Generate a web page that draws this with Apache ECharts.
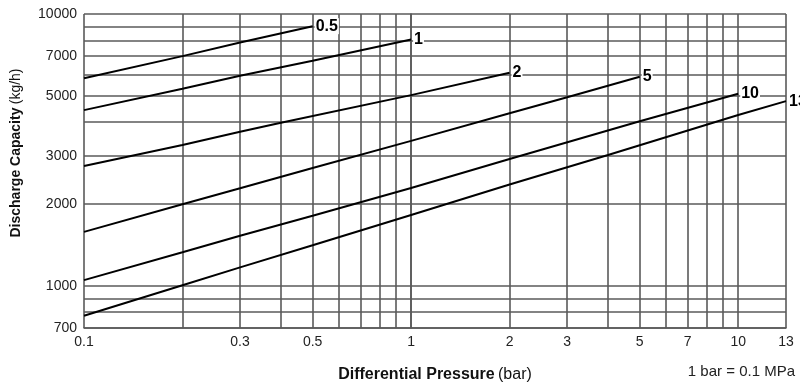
<!DOCTYPE html>
<html><head><meta charset="utf-8">
<script src="https://cdn.jsdelivr.net/npm/echarts@6/dist/echarts.min.js"></script>
<style>html,body{margin:0;padding:0;background:#fff}#c{width:800px;height:384px}</style>
</head><body><div id="c"></div>
<script>
// Tick values (bar on x, kg/h on y)
const xGridTicks = [0.1,0.2,0.3,0.4,0.5,0.6,0.7,0.8,0.9,1,2,3,4,5,6,7,8,9,10,13];
const xLabelTicks = [0.1,0.3,0.5,1,2,3,5,7,10,13];
const yGridTicks = [700,800,900,1000,2000,3000,4000,5000,6000,7000,8000,9000,10000];
const yLabelTicks = [700,1000,2000,3000,5000,7000,10000];

// Curves: label = maximum differential pressure (bar)
const curveNames = ['0.5','1','2','5','10','13'];
const p_05 = [0.1, 0.2, 0.3, 0.5];
const c_05 = [5800, 7000, 7850, 9020];
const p_1 = [0.1, 0.2, 0.3, 0.5, 1];
const c_1 = [4430, 5310, 5930, 6730, 8060];
const p_2 = [0.1, 0.2, 0.3, 0.4, 1, 2];
const c_2 = [2760, 3300, 3690, 3980, 5030, 6080];
const p_5 = [0.1, 0.2, 0.3, 0.5, 1, 2, 3, 5];
const c_5 = [1580, 1995, 2285, 2715, 3415, 4315, 4940, 5880];
const p_10 = [0.1, 0.2, 0.3, 0.5, 1, 2, 5, 10];
const c_10 = [1050, 1330, 1530, 1810, 2290, 2930, 4030, 5090];
const p_13 = [0.1, 0.2, 0.3, 0.5, 1, 2, 4, 5, 10, 13];
const c_13 = [776, 1006, 1170, 1410, 1823, 2360, 3030, 3290, 4250, 4780];

const curves = [[p_05,c_05],[p_1,c_1],[p_2,c_2],[p_5,c_5],[p_10,c_10],[p_13,c_13]];

// The original chart's pressure axis is logarithmic up to 10 bar and then
// stretched so that the last gridline (13 bar) sits at the right edge.
function xPos(p){ return p <= 10 ? Math.log10(p) : 1 + (p - 10) / 3 * Math.log10(1.4); }

const FONT = '"Liberation Sans", Arial, Helvetica, sans-serif';
const GRID = '#5a5a5a';

const chart = echarts.init(document.getElementById('c'), null, {renderer:'canvas'});
chart.setOption({
  animation: false,
  backgroundColor: '#fff',
  textStyle: {fontFamily: FONT},
  grid: {left: 84, top: 14, width: 702, height: 314, containLabel: false, outerBoundsMode: 'none'},
  xAxis: {
    type: 'value',
    min: xPos(0.1), max: xPos(13),
    name: '{b|Differential Pressure} {n|(bar)}',
    nameLocation: 'middle', nameGap: 39,
    nameTextStyle: {rich: {
      b: {fontWeight: 'bold', fontSize: 16, fontFamily: FONT, color: '#111'},
      n: {fontSize: 16, fontFamily: FONT, color: '#111'}
    }},
    axisLine: {show: true, lineStyle: {color: GRID, width: 1.6}},
    axisTick: {show: false, customValues: xGridTicks.map(xPos)},
    splitLine: {show: true, lineStyle: {color: GRID, width: 1.6}},
    axisLabel: {
      customValues: xLabelTicks.map(xPos),
      showMinLabel: true, showMaxLabel: true, hideOverlap: false,
      margin: 7, fontSize: 14, color: '#222', fontFamily: FONT,
      formatter: function (v) {
        for (const t of xLabelTicks) if (Math.abs(xPos(t) - v) < 1e-6) return String(t);
        return '';
      }
    }
  },
  yAxis: {
    type: 'log', logBase: 10, min: 700, max: 10000,
    axisLine: {show: true, lineStyle: {color: GRID, width: 1.6}},
    axisTick: {show: false, customValues: yGridTicks},
    splitLine: {show: true, lineStyle: {color: GRID, width: 1.6}},
    axisLabel: {
      customValues: yLabelTicks,
      showMinLabel: true, showMaxLabel: true, hideOverlap: false,
      margin: 7, fontSize: 14, color: '#222', fontFamily: FONT,
      formatter: function (v) { return String(Math.round(v)); }
    }
  },
  graphic: [
    {type: 'text', x: 16, y: 153, rotation: Math.PI / 2,
     style: {text: '{b|Discharge Capacity} {n|(kg/h)}', align: 'center', verticalAlign: 'middle',
       rich: {b: {fontWeight: 'bold', fontSize: 14, fontFamily: FONT, fill: '#111'},
              n: {fontSize: 14, fontFamily: FONT, fill: '#111'}}}},
    {type: 'text', right: 5, top: 364,
     style: {text: '1 bar = 0.1 MPa', fontSize: 15, fontFamily: FONT, fill: '#222'}}
  ],
  series: curves.map(function (c, i) {
    return {
      type: 'line', name: curveNames[i],
      data: c[0].map(function (p, j) { return [xPos(p), c[1][j]]; }),
      showSymbol: false, symbol: 'none', clip: false,
      lineStyle: {color: '#000', width: 2},
      endLabel: {show: true, formatter: curveNames[i], distance: 2,
        fontWeight: 'bold', fontSize: 16, color: '#000', fontFamily: FONT,
        backgroundColor: '#fff', padding: [0, 1]},
      z: 3
    };
  })
});
</script></body></html>
